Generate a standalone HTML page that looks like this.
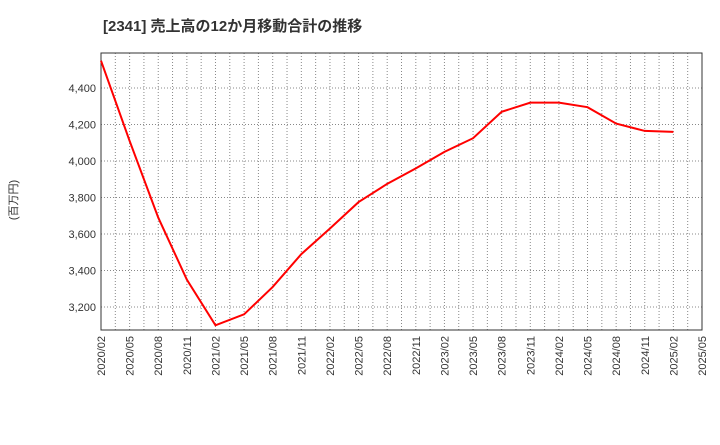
<!DOCTYPE html>
<html><head><meta charset="utf-8"><style>
body{margin:0;background:#fff;font-family:"Liberation Sans","Noto Sans CJK JP",sans-serif}
</style></head><body>
<svg id="c" width="720" height="440" xmlns="http://www.w3.org/2000/svg">
<text x="103" y="31" font-size="15" font-weight="bold" fill="#333" font-family="Liberation Sans, Noto Sans CJK JP, sans-serif">[2341]  売上高の12か月移動合計の推移</text>
<text transform="translate(17,200) rotate(-90)" font-size="11" fill="#333" text-anchor="middle" font-family="Liberation Sans, Noto Sans CJK JP, sans-serif">(百万円)</text>
<g id="grid"></g><g id="axes"></g><g id="series"></g>
</svg>
<script>
const categories=["2020/02","2020/05","2020/08","2020/11","2021/02","2021/05","2021/08","2021/11","2022/02","2022/05","2022/08","2022/11","2023/02","2023/05","2023/08","2023/11","2024/02","2024/05","2024/08","2024/11","2025/02","2025/05"];
const values=[4550,4110,3690,3350,3100,3160,3310,3490,3630,3775,3875,3960,4050,4125,4270,4320,4320,4295,4205,4165,4160];
const yTicks=[3200,3400,3600,3800,4000,4200,4400];
const yTickLabels=["3,200","3,400","3,600","3,800","4,000","4,200","4,400"];
const L=101,R=702,T=53,B=330,ymin=3074,ymax=4592;
const NS="http://www.w3.org/2000/svg";
const x=i=>L+(R-L)*i/(categories.length-1);
const y=v=>B-(v-ymin)/(ymax-ymin)*(B-T);
function mk(t,a,p){const e=document.createElementNS(NS,t);for(const k in a)e.setAttribute(k,a[k]);p.appendChild(e);return e;}
const g=document.getElementById('grid'),ax=document.getElementById('axes'),s=document.getElementById('series');
for(let h=0;h<=(categories.length-1)*2;h++){
 const xx=x(h/2);
 const l=mk('line',{x1:xx,x2:xx,y1:T,y2:B,stroke:'#888','stroke-dasharray':'1,2','stroke-width':1},g);
 
 
}
categories.forEach((c,i)=>{
 const t=mk('text',{transform:`translate(${x(i)+4},${B+6}) rotate(-90)`,'font-size':11,fill:'#333','text-anchor':'end'},ax);
 t.textContent=c;
 
 
});
yTicks.forEach((v,i)=>{
 const l=mk('line',{x1:L,x2:R,y1:y(v),y2:y(v),stroke:'#888','stroke-dasharray':'1,2','stroke-width':1},g);
 
 
 const t=mk('text',{x:L-5,y:y(v)+4,'font-size':11,fill:'#333','text-anchor':'end'},ax);
 t.textContent=yTickLabels[i];
 
 
});
const f=mk('rect',{x:L,y:T,width:R-L,height:B-T,fill:'none',stroke:'#333','stroke-width':1},ax);


const p=mk('polyline',{points:values.map((v,i)=>x(i)+','+y(v)).join(' '),fill:'none',stroke:'#f00','stroke-width':2},s);


</script>
</body></html>
